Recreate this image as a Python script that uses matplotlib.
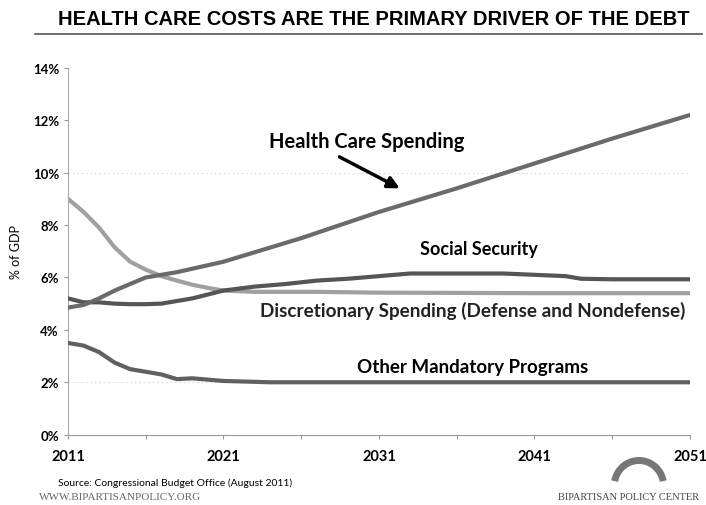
import matplotlib
matplotlib.use('Agg')
import matplotlib.pyplot as plt
from matplotlib.patches import Arc

# Data (% of GDP)
health_years = [2011, 2012, 2013, 2014, 2015, 2016, 2017, 2018, 2021, 2026, 2031, 2036, 2041, 2046, 2051]
health_vals = [4.85, 4.95, 5.2, 5.5, 5.75, 6.0, 6.1, 6.2, 6.6, 7.5, 8.5, 9.4, 10.35, 11.3, 12.2]

ss_years = [2011, 2012, 2013, 2014, 2015, 2016, 2017, 2018, 2019, 2020, 2021, 2023, 2025, 2027, 2029, 2031, 2033, 2036, 2039, 2041, 2043, 2044, 2046, 2051]
ss_vals = [5.2, 5.05, 5.05, 5.0, 4.98, 4.98, 5.0, 5.1, 5.2, 5.35, 5.5, 5.65, 5.75, 5.88, 5.95, 6.05, 6.15, 6.15, 6.15, 6.1, 6.05, 5.95, 5.93, 5.93]

disc_years = [2011, 2012, 2013, 2014, 2015, 2016, 2017, 2018, 2019, 2020, 2021, 2023, 2027, 2031, 2041, 2051]
disc_vals = [9.0, 8.5, 7.9, 7.15, 6.6, 6.3, 6.05, 5.88, 5.72, 5.6, 5.5, 5.45, 5.45, 5.42, 5.4, 5.4]

other_years = [2011, 2012, 2013, 2014, 2015, 2016, 2017, 2018, 2019, 2020, 2021, 2024, 2031, 2041, 2051]
other_vals = [3.5, 3.4, 3.15, 2.75, 2.5, 2.4, 2.3, 2.12, 2.15, 2.1, 2.05, 2.0, 2.0, 2.0, 2.0]

ytick_vals = [0, 2, 4, 6, 8, 10, 12, 14]
ytick_labels = ['0%', '2%', '4%', '6%', '8%', '10%', '12%', '14%']
xtick_major = [2011, 2021, 2031, 2041, 2051]
xtick_minor = [2016, 2026, 2036, 2046]

plt.rcParams['font.family'] = ['Lato', 'DejaVu Sans']

fig = plt.figure(figsize=(7.06, 5.06), dpi=100)
ax = fig.add_axes([0.0963, 0.139, 0.881, 0.725])

# grid (only faint dotted lines survive in the scan)
for g in [2, 10]:
    ax.axhline(g, color='#cccccc', lw=0.8, ls=(0, (1, 3)), zorder=0)

ax.plot(disc_years, disc_vals, color='#a0a0a0', lw=3.0, solid_capstyle='round', zorder=2)
ax.plot(other_years, other_vals, color='#606060', lw=3.0, solid_capstyle='round', zorder=3)
ax.plot(ss_years, ss_vals, color='#555555', lw=3.0, solid_capstyle='round', zorder=3)
ax.plot(health_years, health_vals, color='#6a6a6a', lw=3.0, solid_capstyle='round', zorder=4)

ax.set_xlim(2011, 2051)
ax.set_ylim(0, 14)
ax.set_yticks(ytick_vals)
ax.set_yticklabels(ytick_labels, fontweight='bold', fontsize=9.5)
ax.set_xticks(xtick_major)
ax.set_xticklabels([str(x) for x in xtick_major], fontweight='bold', fontsize=10.5)
ax.set_xticks(xtick_minor, minor=True)
ax.tick_params(axis='both', which='both', length=3, color='#999999', width=0.8)
ax.tick_params(axis='x', pad=7)
ax.set_ylabel('% of GDP', fontsize=9, labelpad=8)

for s in ['top', 'right']:
    ax.spines[s].set_visible(False)
ax.spines['left'].set_color('#aaaaaa')
ax.spines['left'].set_linestyle((0, (1, 1)))
ax.spines['bottom'].set_color('#999999')

# labels on lines
ax.text(2030.2, 11.2, 'Health Care Spending', fontsize=14.5, fontweight='bold', ha='center', va='center')
ax.annotate('', xy=(2032.5, 9.35), xytext=(2028.3, 10.65),
            arrowprops=dict(arrowstyle='-|>,head_width=0.35,head_length=0.7', color='black', lw=2.5))
ax.text(2037.4, 7.09, 'Social Security', fontsize=13, fontweight='bold', ha='center', va='center')
ax.text(2037.0, 4.76, 'Discretionary Spending (Defense and Nondefense)', fontsize=13.6, fontweight='bold',
        ha='center', va='center', color='#222222')
ax.text(2037.0, 2.62, 'Other Mandatory Programs', fontsize=13.5, fontweight='bold', ha='center', va='center')

# title with underline
fig.text(0.53, 0.962, 'HEALTH CARE COSTS ARE THE PRIMARY DRIVER OF THE DEBT', fontsize=14.5,
         fontweight='bold', ha='center', va='center', family=['Liberation Sans', 'DejaVu Sans'])
fig.add_artist(plt.Line2D([0.05, 0.995], [0.931, 0.931], color='#555555', lw=1.2))

# footer
fig.text(0.082, 0.045, 'Source: Congressional Budget Office (August 2011)', fontsize=7.5, ha='left', va='center')
fig.text(0.055, 0.016, 'WWW.BIPARTISANPOLICY.ORG', fontsize=8, ha='left', va='center',
         color='#666666', family=['Liberation Serif', 'DejaVu Serif'])
fig.text(0.99, 0.016, 'BIPARTISAN POLICY CENTER', fontsize=7.5, ha='right', va='center',
         color='#444444', family=['Liberation Serif', 'DejaVu Serif'])
logo = Arc((0.905, 0.038), 0.07, 0.1, theta1=15, theta2=165, transform=fig.transFigure,
           color='#777777', lw=5)
fig.add_artist(logo)

fig.savefig('out.png', dpi=100)
